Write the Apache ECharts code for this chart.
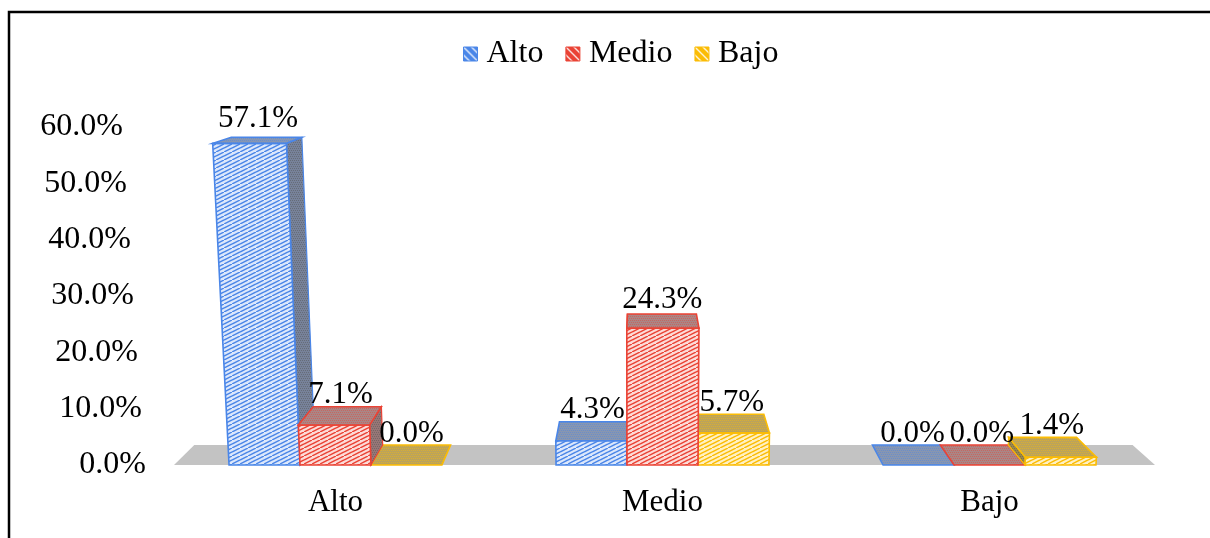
<!DOCTYPE html>
<html>
<head>
<meta charset="utf-8">
<script src="https://cdn.jsdelivr.net/npm/echarts@6/dist/echarts.min.js"></script>
<style>
html,body{margin:0;padding:0;background:#fff;}
#chart{width:1210px;height:538px;}
</style>
</head>
<body>
<div id="chart"></div>
<script>
// ---- data ----
const categories = ['Alto', 'Medio', 'Bajo'];
const seriesNames = ['Alto', 'Medio', 'Bajo'];
const altoValues = [57.1, 4.3, 0.0];
const medioValues = [7.1, 24.3, 0.0];
const bajoValues = [0.0, 5.7, 1.4];
const yTickValues = [0, 10, 20, 30, 40, 50, 60];

// ---- styles ----
const FONT = '"Liberation Serif", "Times New Roman", serif';
const palette = [
  {line: '#4A86E8', front: '#dde8fb', top: '#8896b0', side: '#77829a'},
  {line: '#EA4335', front: '#fcdcd9', top: '#a98686', side: '#967676'},
  {line: '#FBBC04', front: '#fff1c4', top: '#bba35c', side: '#9a874a'}
];

function makePattern(bg, fg, kind) {
  const c = document.createElement('canvas');
  c.width = 8; c.height = 8;
  const g = c.getContext('2d');
  g.fillStyle = bg; g.fillRect(0, 0, 8, 8);
  g.strokeStyle = fg; g.fillStyle = fg;
  if (kind === 'diag') {
    g.lineWidth = 1.4;
    g.beginPath();
    g.moveTo(0, 8); g.lineTo(8, 4);
    g.moveTo(0, 4); g.lineTo(8, 0);
    g.stroke();
  } else if (kind === 'dots') {
    g.globalAlpha = 0.5;
    for (let i = 0; i < 8; i += 2) for (let j = (i / 2) % 2; j < 8; j += 2) g.fillRect(j, i, 1, 1);
  } else if (kind === 'legend') {
    g.lineWidth = 1.4;
    g.beginPath();
    g.moveTo(0, 0); g.lineTo(8, 8);
    g.moveTo(-4, 4); g.lineTo(4, 12);
    g.moveTo(4, -4); g.lineTo(12, 4);
    g.stroke();
  }
  return {image: c, repeat: 'repeat'};
}

const pats = palette.map(p => ({
  front: makePattern(p.front, p.line, 'diag'),
  top: makePattern(p.top, p.line, 'dots'),
  side: makePattern(p.side, '#555', 'dots'),
  legend: makePattern(p.line, 'rgba(255,255,255,0.85)', 'legend')
}));

// perspective parameters (visual styling of the 3D look)
const S = 0.9565;   // depth scale toward vanishing point
const T = 0.000124; // front face lean per pixel of height

function persp(params) {
  const cs = params.coordSys;
  return {vx: cs.x + cs.width * 0.477, vy: cs.y - 123};
}

function makeRender(k) {
  return function (params, api) {
    const ci = api.value(0), v = api.value(1);
    const p0 = api.coord([ci, 0]);
    const p1 = api.coord([ci, v]);
    const band = api.size([1, 0])[0];
    const w = band * 0.217;
    const cx = p0[0] + (k - 1) * w;
    const xl = cx - w / 2, xr = cx + w / 2;
    const y0 = p0[1], yt = p1[1];
    const {vx, vy} = persp(params);
    const fr = (x, y) => [vx + (x - vx) * (1 + T * (y0 - y)), y];
    const bk = (p) => [vx + (p[0] - vx) * S, vy + (p[1] - vy) * S];
    const FTL = fr(xl, yt), FTR = fr(xr, yt), FBL = fr(xl, y0), FBR = fr(xr, y0);
    const BTL = bk(FTL), BTR = bk(FTR), BBL = bk(FBL), BBR = bk(FBR);
    const col = palette[k].line;
    const z = v > 0 ? 100 - Math.abs(cx - vx) / 10 : 5;
    const children = [];
    if (v > 0) {
      const side = cx < vx ? [FTR, FBR, BBR, BTR] : [FTL, FBL, BBL, BTL];
      children.push({type: 'polygon', z2: z, shape: {points: side},
        style: {fill: pats[k].side, stroke: col, lineWidth: 1.2}});
      children.push({type: 'polygon', z2: z + 0.1, shape: {points: [FTL, FTR, FBR, FBL]},
        style: {fill: pats[k].front, stroke: col, lineWidth: 1.6}});
    }
    children.push({type: 'polygon', z2: z + 0.2, shape: {points: [FTL, FTR, BTR, BTL]},
      style: {fill: pats[k].top, stroke: col, lineWidth: 1.6}});
    const lx = (FTL[0] + FTR[0] + BTL[0] + BTR[0]) / 4;
    const ly = (FTL[1] + BTL[1]) / 2 - 21;
    children.push({type: 'text', z2: 300, style: {
      x: lx, y: ly, text: v.toFixed(1) + '%', fill: '#000',
      font: '31px ' + FONT, align: 'center', verticalAlign: 'middle'}});
    return {type: 'group', children: children};
  };
}

function renderFloor(params, api) {
  const cs = params.coordSys;
  const y0 = api.coord([0, 0])[1];
  const {vx, vy} = persp(params);
  const bk = (p) => [vx + (p[0] - vx) * S, vy + (p[1] - vy) * S];
  const L = [cs.x + 2, y0], R = [cs.x + cs.width + 2, y0];
  return {type: 'polygon', z2: 0, shape: {points: [L, R, bk(R), bk(L)]},
    style: {fill: '#c3c3c3', stroke: null}};
}

const valueSets = [altoValues, medioValues, bajoValues];
const rich = {};
yTickValues.forEach((t, i) => {
  rich['p' + i] = {fontSize: 32, fontFamily: FONT, color: '#000',
    padding: [0, Math.round(i * 23 / (yTickValues.length - 1)), 0, 0]};
});

const option = {
  animation: false,
  graphic: [{type: 'rect', z: 100, silent: true,
    shape: {x: 9, y: 12, width: 1300, height: 600},
    style: {fill: null, stroke: '#000', lineWidth: 2.5}}],
  legend: {
    left: 463, top: 38, padding: 0,
    itemWidth: 14, itemHeight: 14, itemGap: 22,
    textStyle: {fontSize: 32, fontFamily: FONT, color: '#000', padding: [0, 0, 0, 4]},
    data: seriesNames.map((n, k) => ({name: n, icon: 'rect',
      itemStyle: {color: pats[k].legend, borderColor: palette[k].line, borderWidth: 1}}))
  },
  grid: {left: 172, right: 57, top: 127, bottom: 73},
  xAxis: {
    type: 'category', data: categories,
    axisLine: {show: false}, axisTick: {show: false},
    axisLabel: {fontSize: 31, fontFamily: FONT, color: '#000', margin: 22}
  },
  yAxis: {
    type: 'value', min: 0, max: 60, interval: 10,
    axisLine: {show: false}, axisTick: {show: false}, splitLine: {show: false},
    axisLabel: {margin: 26,
      formatter: (v) => '{p' + yTickValues.indexOf(v) + '|' + v.toFixed(1) + '%}',
      rich: rich}
  },
  series: [
    {type: 'custom', name: '_floor', silent: true, renderItem: renderFloor,
      data: [[0, 0]], encode: {x: 0, y: 1}}
  ].concat(seriesNames.map((n, k) => ({
    type: 'custom', name: n, silent: true,
    itemStyle: {color: palette[k].line},
    renderItem: makeRender(k),
    encode: {x: 0, y: 1},
    data: valueSets[k].map((v, i) => [i, v])
  })))
};

const chart = echarts.init(document.getElementById('chart'), null, {renderer: 'canvas'});
chart.setOption(option);
</script>
</body>
</html>
